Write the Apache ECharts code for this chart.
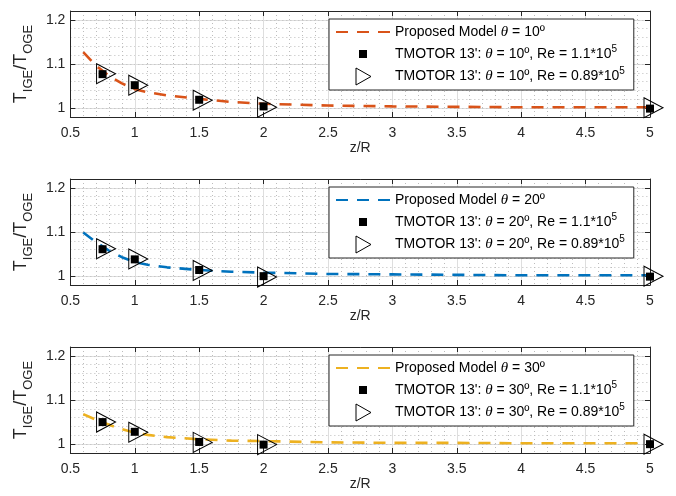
<!DOCTYPE html>
<html>
<head>
<meta charset="utf-8">
<script src="https://cdn.jsdelivr.net/npm/echarts@6/dist/echarts.min.js"></script>
<style>
  html, body { margin: 0; padding: 0; background: #fff; }
  #chart { width: 676px; height: 496px; }
</style>
</head>
<body>
<div id="chart"></div>
<script>
// Ground-effect thrust ratio T_IGE/T_OGE versus rotor height z/R, one panel per pitch angle.
const angles = [10, 20, 30];

// Proposed model curves
const modelZ  = [0.6, 0.7, 0.8, 0.9, 1.0, 1.1, 1.25, 1.5, 1.75, 2.0, 2.5, 3.0, 3.5, 4.0, 4.5, 5.0];
const model10 = [1.127, 1.096, 1.073, 1.056, 1.043, 1.036, 1.029, 1.021, 1.014, 1.010, 1.006, 1.004, 1.003, 1.002, 1.002, 1.002];
const model20 = [1.099, 1.077, 1.058, 1.043, 1.032, 1.026, 1.020, 1.014, 1.010, 1.008, 1.005, 1.004, 1.003, 1.002, 1.002, 1.002];
const model30 = [1.068, 1.055, 1.044, 1.034, 1.026, 1.021, 1.016, 1.011, 1.008, 1.007, 1.004, 1.003, 1.003, 1.002, 1.002, 1.002];

// TMOTOR 13" measurements
const testZ = [0.75, 1, 1.5, 2, 5];
const reHigh10 = [1.077, 1.052, 1.019, 1.004, 0.999];
const reLow10  = [1.078, 1.052, 1.018, 1.002, 1.001];
const reHigh20 = [1.061, 1.038, 1.014, 1.000, 0.999];
const reLow20  = [1.062, 1.039, 1.013, 0.998, 1.000];
const reHigh30 = [1.050, 1.028, 1.005, 0.999, 1.000];
const reLow30  = [1.050, 1.027, 1.004, 0.999, 1.000];

// Axis ticks
const yTickValues = [1, 1.1, 1.2];
const yRange = [0.98, 1.22];
const xRange = [0.5, 5];
const xTickStep = 0.5;

const models = [model10, model20, model30];
const highs = [reHigh10, reHigh20, reHigh30];
const lows = [reLow10, reLow20, reLow30];

const lineColors = ['#D95319', '#0072BD', '#EDB120'];
const panelTops = [11, 179, 347];
const panelHeight = 106;
const FONT = 'Liberation Sans, Arial, Helvetica, sans-serif';
const INK = '#262626';

const pairs = (xs, ys) => xs.map((x, i) => [x, ys[i]]);
const triPath = 'path://M0,0L18,10L0,20Z';

const grid = [], xAxis = [], yAxis = [], series = [], legend = [];

angles.forEach((ang, i) => {
  grid.push({ left: 68, right: 26, top: panelTops[i], height: panelHeight });

  // bottom x axis: labels, ticks, major + minor grid
  xAxis.push({
    type: 'value', gridIndex: i, min: xRange[0], max: xRange[1], interval: xTickStep,
    name: 'z/R', nameLocation: 'middle', nameGap: 18,
    nameTextStyle: { fontFamily: FONT, fontSize: 14, color: INK },
    axisLine: { onZero: false, lineStyle: { color: INK, width: 1 } },
    axisTick: { inside: true, length: 5, lineStyle: { color: INK } },
    axisLabel: { fontFamily: FONT, fontSize: 14, color: INK, margin: 9,
                 formatter: v => String(Math.round(v * 10) / 10) },
    splitLine: { show: true, lineStyle: { color: '#dedede', width: 1 } },
    minorTick: { show: false, splitNumber: 5 },
    minorSplitLine: { show: true, lineStyle: { color: '#bcbcbc', width: 1, type: [1, 3] } }
  });
  // top x axis: box edge with ticks
  xAxis.push({
    type: 'value', gridIndex: i, position: 'top', min: xRange[0], max: xRange[1], interval: xTickStep,
    axisLine: { onZero: false, lineStyle: { color: INK, width: 1 } },
    axisTick: { inside: true, length: 5, lineStyle: { color: INK } },
    axisLabel: { show: false },
    splitLine: { show: false }
  });

  // left y axis: labels, ticks, major grid
  yAxis.push({
    type: 'value', gridIndex: i, position: 'left', min: yRange[0], max: yRange[1], interval: 0.02,
    name: 'T{s|IGE}/T{s|OGE}', nameLocation: 'middle', nameRotate: 90, nameGap: 24,
    nameTextStyle: {
      fontFamily: FONT, fontSize: 18, color: INK, lineHeight: 27,
      rich: { s: { fontFamily: FONT, fontSize: 13, color: INK, lineHeight: 13, verticalAlign: 'bottom' } }
    },
    axisLine: { show: true, onZero: false, lineStyle: { color: INK, width: 1 } },
    axisTick: { inside: true, length: 5, lineStyle: { color: INK }, customValues: yTickValues },
    axisLabel: { fontFamily: FONT, fontSize: 14, color: INK, margin: 5, customValues: yTickValues,
                 formatter: v => String(Math.round(v * 10) / 10) },
    splitLine: { show: true, lineStyle: { color: '#dedede', width: 1 } }
  });
  // right y axis: box edge with ticks
  yAxis.push({
    type: 'value', gridIndex: i, position: 'right', min: yRange[0], max: yRange[1], interval: 0.02,
    axisLine: { show: true, onZero: false, lineStyle: { color: INK, width: 1 } },
    axisTick: { inside: true, length: 5, lineStyle: { color: INK }, customValues: yTickValues },
    axisLabel: { show: false },
    splitLine: { show: false }
  });
  // minor y grid
  yAxis.push({
    type: 'value', gridIndex: i, position: 'left', min: yRange[0], max: yRange[1], interval: 0.02,
    axisLine: { show: false }, axisTick: { show: false }, axisLabel: { show: false },
    splitLine: { show: true, lineStyle: { color: '#bcbcbc', width: 1, type: [1, 3] } }
  });

  const modelName = 'Proposed Model θ = ' + ang + 'º';
  const highName = "TMOTOR 13': θ = " + ang + 'º, Re = 1.1*10^5';
  const lowName = "TMOTOR 13': θ = " + ang + 'º, Re = 0.89*10^5';

  series.push({
    type: 'line', name: modelName, xAxisIndex: i * 2, yAxisIndex: i * 3,
    data: pairs(modelZ, models[i]), symbol: 'none', smooth: false, silent: true,
    lineStyle: { color: lineColors[i], width: 2.6, type: [12, 9] },
    itemStyle: { color: lineColors[i] }, z: 2
  });
  series.push({
    type: 'scatter', name: highName, xAxisIndex: i * 2, yAxisIndex: i * 3,
    data: pairs(testZ, highs[i]), symbol: 'rect', symbolSize: 8, clip: false, silent: true,
    itemStyle: { color: '#000', opacity: 1 }, z: 3
  });
  series.push({
    type: 'scatter', name: lowName, xAxisIndex: i * 2, yAxisIndex: i * 3,
    data: pairs(testZ, lows[i]), symbol: triPath, symbolSize: [19, 20], symbolOffset: [3.5, 0],
    clip: false, silent: true,
    itemStyle: { color: 'rgba(0,0,0,0)', borderColor: '#000', borderWidth: 1, opacity: 1 }, z: 4
  });

  legend.push({
    orient: 'vertical', left: 329, top: panelTops[i] + 8,
    itemWidth: 54, itemHeight: 20, itemGap: 2,
    padding: [3, 9, 3, 6],
    backgroundColor: '#fff', borderColor: INK, borderWidth: 1, borderRadius: 0,
    selectedMode: false,
    textStyle: {
      fontFamily: FONT, fontSize: 14, color: '#000', lineHeight: 20,
      rich: {
        th: { fontFamily: 'Liberation Serif, serif', fontStyle: 'italic', fontSize: 15, color: '#000', lineHeight: 20 },
        sup: { fontFamily: FONT, fontSize: 10, color: '#000', lineHeight: 10, verticalAlign: 'top' }
      }
    },
    formatter: name => name.replace('θ', '{th|θ}').replace('^5', '{sup|5}'),
    data: [
      { name: modelName, itemStyle: { color: 'rgba(0,0,0,0)', borderWidth: 0, borderColor: 'rgba(0,0,0,0)' } },
      { name: highName, icon: 'path://M0,0M20,20M6,6L14,6L14,14L6,14Z',
        itemStyle: { color: '#000', borderWidth: 0 } },
      { name: lowName, icon: 'path://M0,0M20,20M3,1.5L18,10L3,18.5Z',
        itemStyle: { color: 'rgba(0,0,0,0)', borderColor: '#000', borderWidth: 1 } }
    ]
  });
});

const chart = echarts.init(document.getElementById('chart'), null, { renderer: 'canvas' });
chart.setOption({
  backgroundColor: '#fff',
  animation: false,
  grid, xAxis, yAxis, series, legend
});
</script>
</body>
</html>
